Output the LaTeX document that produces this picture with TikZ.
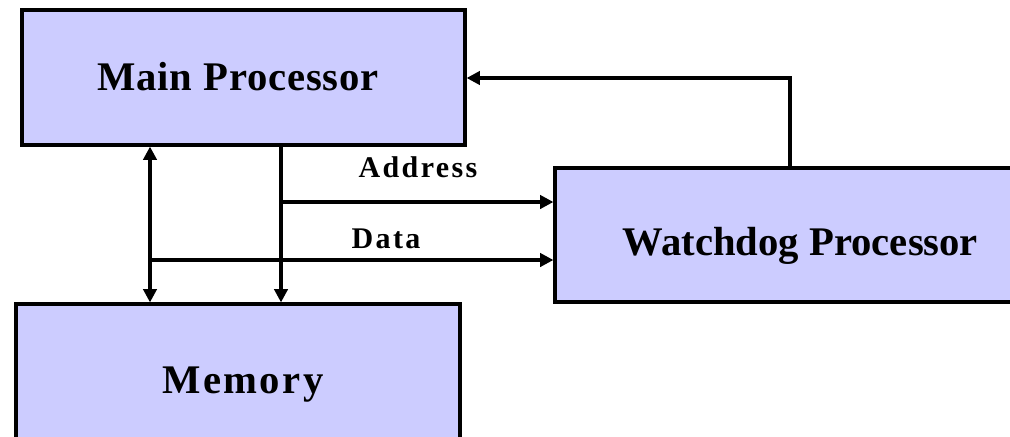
\documentclass[tikz,border=0pt]{standalone}
\usepackage{fontspec}
\setmainfont{Liberation Serif}
\newfontfamily\lsa[LetterSpace=2]{Liberation Serif}
\newfontfamily\lsb[LetterSpace=6]{Liberation Serif}
\newfontfamily\lsc[LetterSpace=8]{Liberation Serif}
\usetikzlibrary{arrows.meta,calc}
\definecolor{boxfill}{HTML}{CCCCFF}
\tikzset{
  blk/.style={draw=black, fill=boxfill, line width=2.4pt, rectangle, inner sep=0pt},
  wire/.style={line width=2.4pt, -{Triangle[length=10pt,width=10pt]}},
  lbl/.style={font=\lsc\bfseries\fontsize{22.5}{24}\selectfont, inner sep=0pt, anchor=base},
  big/.style={font=\bfseries\fontsize{30.5}{33}\selectfont, inner sep=0pt, anchor=base}
}
\begin{document}
\begin{tikzpicture}[x=0.75pt,y=-0.75pt]
\useasboundingbox (0,0) rectangle (1010,436);
\clip (0,0) rectangle (1010,436);
% boxes
\node[blk, minimum width=443*0.75pt, minimum height=135*0.75pt] (main) at (243.5,77.5) {};
\node[blk, minimum width=485*0.75pt, minimum height=134*0.75pt] (wd) at (797.5,235) {};
\node[blk, minimum width=444*0.75pt, minimum height=150*0.75pt] (mem) at (238,379) {};
% texts
\node[big, font=\lsa\bfseries\fontsize{30.5}{33}\selectfont] (tmain) at (238,90) {Main Processor};
\node[big] (twd) at (800.5,255) {Watchdog Processor};
\node[big, font=\lsb\bfseries\fontsize{30.5}{33}\selectfont] (tmem) at (243,393) {Memory};
\node[lbl] (taddr) at (418,177) {Address};
\node[lbl] (tdata) at (386,248) {Data};
% helper positions
\coordinate (xa) at (150,0);
\coordinate (xb) at (281,0);
\coordinate (xf) at (790,0);
\coordinate (yaddr) at (0,202);
\coordinate (ydata) at (0,260);
\coordinate (yfb) at (0,78);
% connectors
\draw[wire, {Triangle[length=10pt,width=10pt]}-{Triangle[length=10pt,width=10pt]}] (main.south -| xa) -- (mem.north -| xa);
\draw[wire] (main.south -| xb) -- (mem.north -| xb);
\draw[wire] (xb |- yaddr) -- (wd.west |- yaddr);
\draw[wire] (xa |- ydata) -- (wd.west |- ydata);
\draw[wire] (wd.north -| xf) |- (main.east |- yfb);
\end{tikzpicture}
\end{document}
